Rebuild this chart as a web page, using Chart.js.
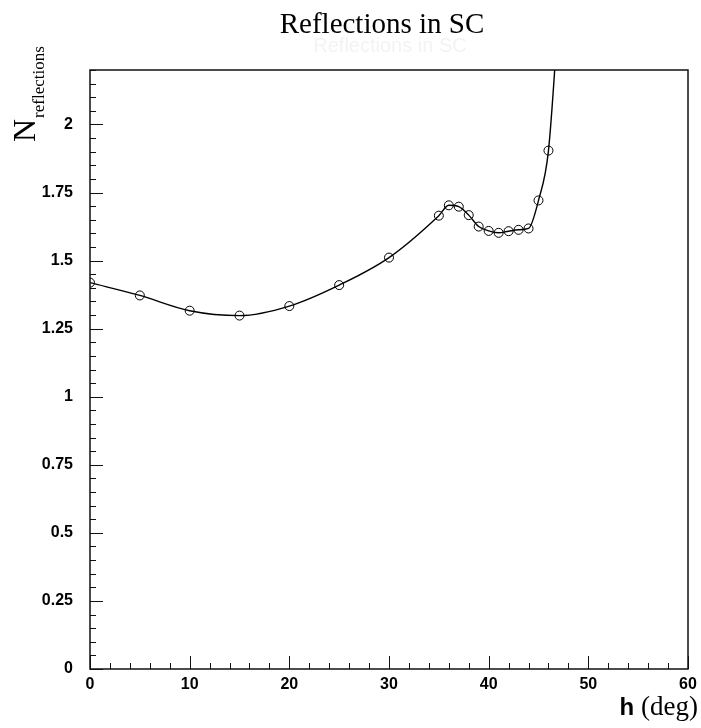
<!DOCTYPE html>
<html>
<head>
<meta charset="utf-8">
<script src="https://cdn.jsdelivr.net/npm/chart.js@4.4.1/dist/chart.umd.min.js"></script>
<style>
  html, body { margin: 0; padding: 0; background: #fff; }
  #wrap { width: 701px; height: 728px; }
</style>
</head>
<body>
<div id="wrap"><canvas id="myChart" width="701" height="728"></canvas></div>
<script>
// measured points (angle h in deg, number of reflections)
const hDeg = [0, 5, 10, 15, 20, 25, 30, 35, 36, 37, 38, 39, 40, 41, 42, 43, 44, 45, 46];
const nRefl = [1.419, 1.372, 1.316, 1.298, 1.333, 1.410, 1.511, 1.665, 1.703, 1.698, 1.667,
               1.625, 1.609, 1.602, 1.608, 1.613, 1.618, 1.721, 1.904];
// the fitted curve keeps rising past the last point and leaves the frame
const curveTailH = [47];
const curveTailN = [2.4];

const xTicks = [0, 10, 20, 30, 40, 50, 60];
const yTicks = [0, 0.25, 0.5, 0.75, 1, 1.25, 1.5, 1.75, 2];
const yTickLabels = ['0', '0.25', '0.5', '0.75', '1', '1.25', '1.5', '1.75', '2'];

const pts = hDeg.map((h, i) => ({ x: h, y: nRefl[i] }));
const curve = pts.concat(curveTailH.map((h, i) => ({ x: h, y: curveTailN[i] })));

const frame = {
  id: 'frame',
  afterDraw(chart) {
    const c = chart.ctx, a = chart.chartArea;
    const xs = chart.scales.x, ys = chart.scales.y;
    c.save();
    c.strokeStyle = '#111';
    c.lineWidth = 1.5;
    c.strokeRect(a.left, a.top, a.right - a.left, a.bottom - a.top);
    c.lineWidth = 1;
    c.beginPath();
    // x ticks: every 2 minor, every 10 major, pointing inward
    for (let v = 0; v <= 60; v += 2) {
      const px = Math.round(xs.getPixelForValue(v)) + 0.5;
      const len = v % 10 === 0 ? 13 : 6;
      c.moveTo(px, a.bottom);
      c.lineTo(px, a.bottom - len);
    }
    // y ticks: every 0.05 minor, every 0.25 major
    for (let k = 0; k <= 44; k++) {
      const v = k * 0.05;
      const py = Math.round(ys.getPixelForValue(v)) + 0.5;
      const len = k % 5 === 0 ? 13 : 6;
      c.moveTo(a.left, py);
      c.lineTo(a.left + len, py);
    }
    c.stroke();

    // title and faint ghost copy below it
    c.textAlign = 'center';
    c.textBaseline = 'alphabetic';
    c.fillStyle = '#f3f3f3';
    c.font = '20px "Liberation Sans"';
    c.fillText('Reflections in SC', 390, 52);
    c.fillStyle = '#000';
    c.font = '29px "Liberation Serif"';
    c.fillText('Reflections in SC', 382, 33);

    // y title: N with subscript, rotated
    c.save();
    c.translate(35, 142);
    c.rotate(-Math.PI / 2);
    c.textAlign = 'left';
    c.font = '32px "Liberation Serif"';
    c.fillText('N', 0, 0);
    const nw = c.measureText('N').width;
    c.font = '17px "Liberation Serif"';
    c.fillText('reflections', nw + 1, 9);
    c.restore();

    // x title
    c.textAlign = 'right';
    c.font = '27px "Liberation Serif"';
    c.fillText('(deg)', 698, 715);
    const dw = c.measureText('(deg) ').width;
    c.font = 'bold 24px "Liberation Sans"';
    c.fillText('h', 698 - dw, 715);
    c.restore();
  }
};

new Chart(document.getElementById('myChart').getContext('2d'), {
  type: 'scatter',
  data: {
    datasets: [
      {
        data: curve,
        showLine: true,
        borderColor: '#000',
        borderWidth: 1.4,
        pointRadius: 0,
        cubicInterpolationMode: 'monotone',
        fill: false
      },
      {
        data: pts,
        showLine: false,
        pointRadius: 4.5,
        pointBorderWidth: 1,
        pointBorderColor: '#000',
        pointBackgroundColor: 'rgba(255,255,255,0)'
      }
    ]
  },
  options: {
    responsive: false,
    animation: false,
    layout: { padding: { top: 70, right: 13, left: 0, bottom: 0 } },
    plugins: { legend: { display: false }, tooltip: { enabled: false }, title: { display: false } },
    scales: {
      x: {
        type: 'linear', min: 0, max: 60,
        grid: { display: false, drawTicks: false }, border: { display: false },
        afterBuildTicks: s => { s.ticks = xTicks.map(v => ({ value: v })); },
        afterFit: s => { s.height = 59; s.paddingRight = 0; s.paddingLeft = 0; },
        ticks: {
          padding: 6, color: '#000',
          font: { family: 'Liberation Sans', size: 16, weight: 'bold' },
          maxRotation: 0
        }
      },
      y: {
        type: 'linear', min: 0, max: 2.2,
        grid: { display: false, drawTicks: false }, border: { display: false },
        afterBuildTicks: s => { s.ticks = yTicks.map(v => ({ value: v })); },
        afterFit: s => { s.width = 90; },
        ticks: {
          padding: 17, color: '#000',
          font: { family: 'Liberation Sans', size: 16, weight: 'bold' },
          callback: v => yTickLabels[yTicks.indexOf(v)] ?? ''
        }
      }
    }
  },
  plugins: [frame]
});
</script>
</body>
</html>
